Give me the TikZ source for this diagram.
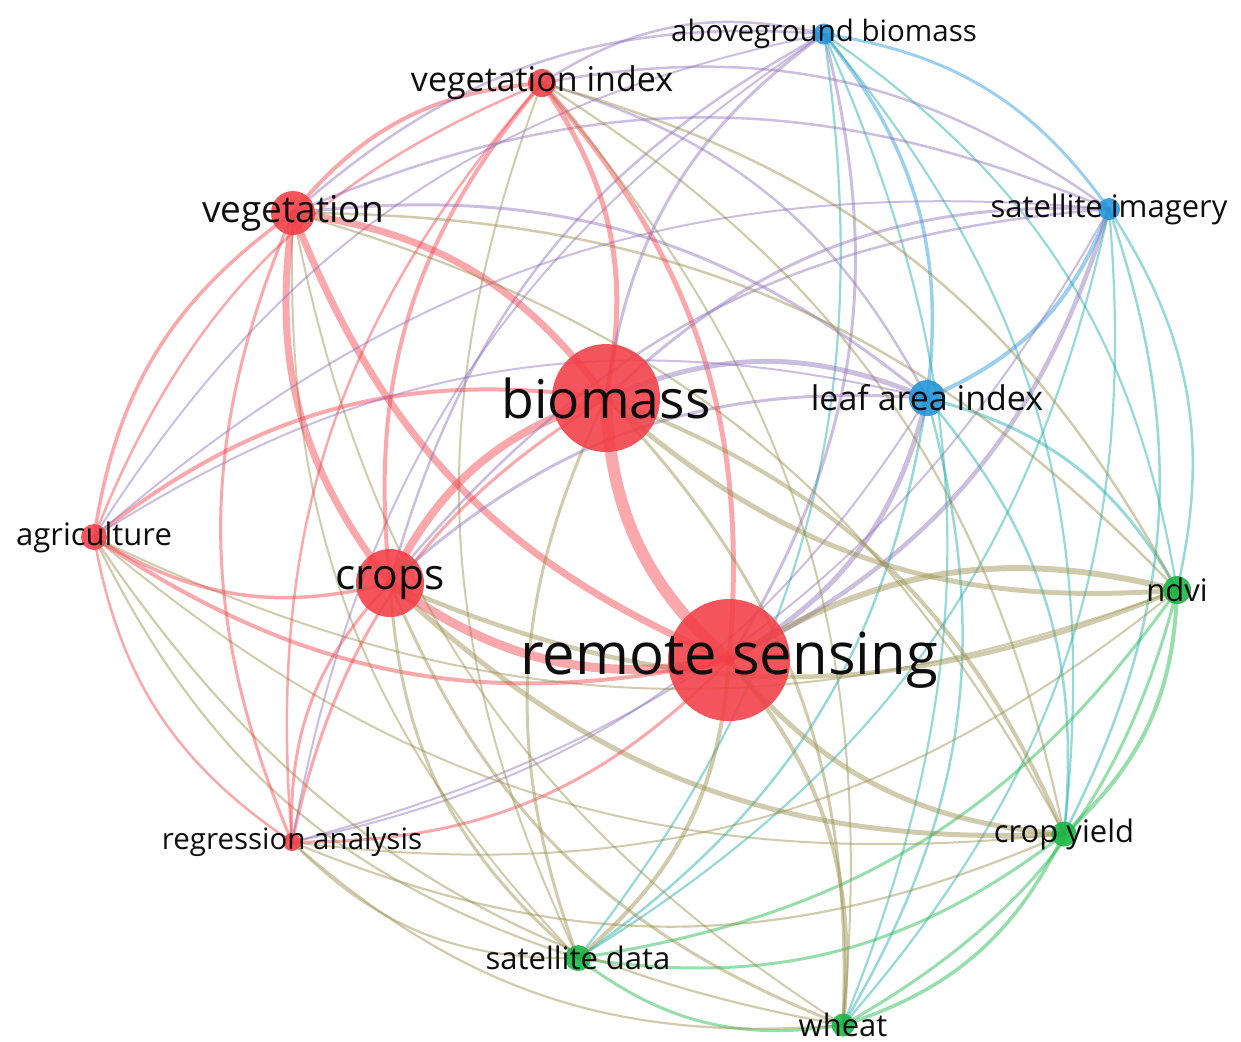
\documentclass[tikz,border=0pt]{standalone}
\usepackage{fontspec}
\setmainfont{Open Sans}
\pgfdeclarelayer{background}
\pgfsetlayers{background,main}

\definecolor{redc}{RGB}{243,62,70}
\definecolor{grnc}{RGB}{22,182,68}
\definecolor{bluc}{RGB}{34,148,218}
% link colours, by pair of clusters
\colorlet{mixrr}{redc}
\colorlet{mixgg}{grnc}
\colorlet{mixbb}{bluc}
\definecolor{mixrg}{RGB}{150,140,70}\colorlet{mixgr}{mixrg}
\definecolor{mixrb}{RGB}{140,110,185}\colorlet{mixbr}{mixrb}
\definecolor{mixgb}{RGB}{25,170,165}\colorlet{mixbg}{mixgb}
% cluster of each item
\def\clbi{r}\def\clrs{r}\def\clcr{r}\def\clve{r}\def\clvi{r}\def\clag{r}\def\clra{r}
\def\clnd{g}\def\clcy{g}\def\clsd{g}\def\clwh{g}
\def\clab{b}\def\clsi{b}\def\clla{b}

% one unit = 0.1pt, so that long links stay within TeX's limits
\tikzset{
  item/.style={circle, inner sep=0pt, minimum size=#1*0.1pt, fill opacity=0.88},
  link/.style={line width=#1*0.1pt+0.1pt, draw opacity=0.45, line cap=round},
  lbl/.style={inner sep=0pt, text=black!95, font=\fontsize{#1}{#1}\selectfont},
}

\begin{document}
\begin{tikzpicture}[x=0.1pt, y=0.1pt]
\useasboundingbox (0,0) rectangle (1241,-1041);

%items
\node[item=108, fill=redc] (bi) at (606,-398) {};
\node[item=122, fill=redc] (rs) at (729,-660) {};
\node[item=68, fill=redc] (cr) at (390,-583) {};
\node[item=44, fill=redc] (ve) at (293,-213) {};
\node[item=28, fill=redc] (vi) at (542,-83) {};
\node[item=26, fill=redc] (ag) at (94,-537) {};
\node[item=18, fill=redc] (ra) at (292,-842) {};
\node[item=21, fill=bluc] (ab) at (824,-34) {};
\node[item=22, fill=bluc] (si) at (1109,-209) {};
\node[item=36, fill=bluc] (la) at (927,-398) {};
\node[item=28, fill=grnc] (nd) at (1177,-590) {};
\node[item=25, fill=grnc] (cy) at (1064,-834) {};
\node[item=26, fill=grnc] (sd) at (578,-958) {};
\node[item=23, fill=grnc] (wh) at (843,-1025) {};

%links, always bent to the left
\begin{pgfonlayer}{background}
\foreach \a/\b/\w in {
  ab/si/2, ab/la/2.5, ab/nd/1.2, ab/cy/1.2, ab/rs/2, ab/wh/1.2, ab/sd/1.2,
  si/la/3, si/nd/1.5, si/cy/1.5, si/rs/3.5, si/wh/1.2, si/sd/1.2, si/ra/1,
  la/nd/2, la/cy/1.5, la/rs/4, la/wh/1.5, la/sd/1.5, la/ra/1,
  nd/cy/3, rs/nd/5, nd/wh/2, nd/sd/2, nd/ra/1, nd/cr/3.5, nd/ag/1,
  cy/rs/4, cy/wh/2.5, cy/sd/2, cy/ra/1.2, cy/cr/4, cy/ag/1,
  rs/wh/3, rs/sd/3, rs/ra/2, rs/cr/8, rs/ag/3, rs/ve/6,
  wh/sd/2, wh/ra/1.2, wh/cr/2, wh/ag/1.2, wh/ve/1,
  sd/ra/1.2, sd/cr/2, sd/ag/1.2, sd/ve/1, sd/vi/1, sd/bi/2,
  ra/cr/2, ra/ag/1.5, ra/ve/2, ra/vi/1.5, ra/bi/2, ra/ab/1,
  cr/ag/2.5, cr/ve/6, cr/vi/3, cr/bi/7, cr/ab/1.5, cr/si/1.5, cr/la/2,
  ag/ve/2.5, ag/vi/1.5, ag/bi/3, ag/ab/1, ag/si/1, ag/la/1,
  ve/vi/3, ve/bi/6, ve/ab/1.5, ve/si/1.5, ve/la/2, ve/nd/1.5, ve/cy/1.2,
  vi/bi/4, vi/ab/1.5, vi/si/1.5, vi/la/1.5, vi/nd/1.5, vi/cy/1.2, vi/rs/4, vi/wh/1,
  bi/ab/2, bi/si/2, bi/la/4, nd/bi/4, bi/cy/3, rs/bi/11, bi/wh/2}
{
  \colorlet{linkc}{mix\csname cl\a\endcsname\csname cl\b\endcsname}
  \draw[link=\w, draw=linkc] (\a.center) to[bend left=23] (\b.center);
}
\end{pgfonlayer}

%labels
\node[lbl=5.35] (bi-t) at (bi) {biomass};
\node[lbl=5.8] (rs-t) at (rs) {remote sensing};
\node[lbl=4.25] (cr-t) at (cr) {crops};
\node[lbl=3.7] (ve-t) at (ve) {vegetation};
\node[lbl=3.4] (vi-t) at (vi) {vegetation index};
\node[lbl=3.1] (ag-t) at (ag) {agriculture};
\node[lbl=2.95] (ra-t) at (ra) {regression analysis};
\node[lbl=2.95] (ab-t) at (ab) {aboveground biomass};
\node[lbl=3.1] (si-t) at (si) {satellite imagery};
\node[lbl=3.4] (la-t) at (la) {leaf area index};
\node[lbl=3.1] (nd-t) at (nd) {ndvi};
\node[lbl=3.1] (cy-t) at (cy) {crop yield};
\node[lbl=3.1] (sd-t) at (sd) {satellite data};
\node[lbl=3.1] (wh-t) at (wh) {wheat};
\end{tikzpicture}
\end{document}
